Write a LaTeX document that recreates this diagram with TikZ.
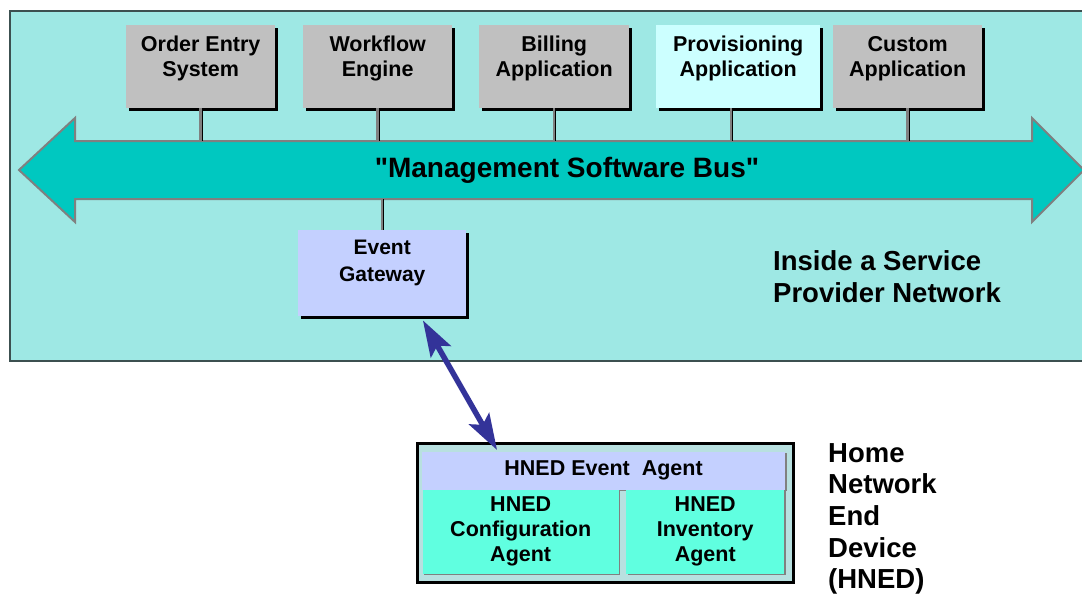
\documentclass[tikz,border=0pt]{standalone}
\usepackage{fontspec}
\setmainfont{Liberation Sans}[Ligatures=TeXOff]
\usetikzlibrary{arrows.meta,calc,shadows}

\definecolor{panelfill}{HTML}{9EE8E4}
\definecolor{panelline}{HTML}{3C5050}
\definecolor{busfill}{HTML}{00C8C0}
\definecolor{busline}{HTML}{808080}
\definecolor{appgray}{HTML}{C0C0C0}
\definecolor{appcyan}{HTML}{CCFFFF}
\definecolor{lavender}{HTML}{C4D0FF}
\definecolor{agentgreen}{HTML}{60FFE0}
\definecolor{devicefill}{HTML}{B8E0E0}
\definecolor{linkblue}{HTML}{333399}

% top-aligned, centred label inside a box of fixed size: height, width, top gap, text
\newcommand\boxtext[4]{\parbox[c][#1][t]{#2}{\centering\vspace*{#3}#4\par}}

\tikzset{
  hardshadow/.style={drop shadow={shadow xshift=2.5pt, shadow yshift=-2.5pt, fill=black, opacity=1}},
  softshadow/.style={drop shadow={shadow xshift=1.5pt, shadow yshift=-1.5pt, fill=busline, opacity=1}},
  appbox/.style={fill=appgray, inner sep=0pt, anchor=north west, hardshadow,
    font=\bfseries\fontsize{21.5}{25}\selectfont},
  gatebox/.style={fill=lavender, inner sep=0pt, anchor=north west, hardshadow,
    font=\bfseries\fontsize{21}{26.5}\selectfont},
  agentbox/.style={fill=agentgreen, inner sep=0pt, anchor=north west, softshadow,
    font=\bfseries\fontsize{21.5}{24.7}\selectfont},
  tap/.style={draw=busline, line width=2.5pt},
  tapedge/.style={draw=black, line width=1pt},
  bigtext/.style={inner sep=0pt, anchor=north west, align=left,
    font=\bfseries\fontsize{27.5}{31.7}\selectfont},
  link/.style={draw=linkblue, line width=5.5pt,
    {Stealth[length=36pt,width=23pt,inset=7pt]}-{Stealth[length=36pt,width=23pt,inset=7pt]}},
}

\begin{document}
\begin{tikzpicture}[x=1pt, y=-1pt]
  \useasboundingbox (0,0) rectangle (1082,595);
  \clip (0,0) rectangle (1082,595);

  % service provider network panel
  \draw[draw=panelline, fill=panelfill, line width=1.5pt] (10,11) rectangle (1095,361);

  % management bus, a double-headed arrow
  \draw[draw=busline, fill=busfill, line width=2pt, line join=miter]
    (19,170) -- (75,118) -- (75,141) -- (1032,141) -- (1032,118) -- (1084,170)
    -- (1032,222) -- (1032,199) -- (75,199) -- (75,222) -- cycle;
  \node[inner sep=0pt, minimum height=58pt, font=\bfseries\fontsize{28}{33}\selectfont]
    (bus) at (567,170) {"Management Software Bus"};

  % applications on the bus
  \node[appbox] (oes) at (126,25) {\boxtext{83pt}{149pt}{11pt}{Order Entry\\System}};
  \node[appbox] (wfe) at (303,25) {\boxtext{83pt}{149pt}{11pt}{Workflow\\Engine}};
  \node[appbox] (bill) at (479,25) {\boxtext{83pt}{150pt}{11pt}{Billing\\Application}};
  \node[appbox, fill=appcyan] (prov) at (656,25) {\boxtext{83pt}{164pt}{11pt}{Provisioning\\Application}};
  \node[appbox] (cust) at (833,25) {\boxtext{83pt}{149pt}{11pt}{Custom\\Application}};

  \foreach \n/\dx in {oes/0, wfe/0, bill/0, prov/-7, cust/0} {
    \draw[tap] ([xshift=\dx pt]\n.south) -- ([xshift=\dx pt]\n.south |- bus.north);
    \draw[tapedge] ([xshift=\dx pt+1.5pt]\n.south) -- ([xshift=\dx pt+1.5pt]\n.south |- bus.north);
  }

  % event gateway below the bus
  \node[gatebox] (gw) at (298,230) {\boxtext{86pt}{168pt}{10pt}{Event\\Gateway}};
  \draw[tap] (gw.north |- bus.south) -- (gw.north);
  \draw[tapedge] ([xshift=1.5pt]gw.north |- bus.south) -- ([xshift=1.5pt]gw.north);

  \node[bigtext] (spn) at (773,250.5) {Inside a Service\\Provider Network};

  % home network end device
  \node[draw=black, line width=3pt, fill=devicefill, inner sep=0pt, anchor=north west,
    minimum width=376.3pt, minimum height=139pt] (hned) at (415.5,442.2) {};
  \node[fill=lavender, inner sep=0pt, anchor=north west, softshadow,
    minimum width=363.3pt, minimum height=37.6pt,
    font=\bfseries\fontsize{21.5}{25}\selectfont] (ea) at (421.7,451.7) {HNED Event\ \ Agent};
  \node[agentbox] (cfg) at (422.7,489.3) {\boxtext{84pt}{195.6pt}{7.5pt}{HNED\\Configuration\\Agent}};
  \node[agentbox] (inv) at (626,489.3) {\boxtext{84pt}{158pt}{7.5pt}{HNED\\Inventory\\Agent}};

  \node[bigtext] (hnedname) at (828,443) {Home\\Network\\End\\Device\\(HNED)};

  % event link between gateway and device agent
  \draw[link] ($(gw.south)+(40.7,4)$) -- ($(ea.north)+(-106.5,-1.7)$);
\end{tikzpicture}
\end{document}
